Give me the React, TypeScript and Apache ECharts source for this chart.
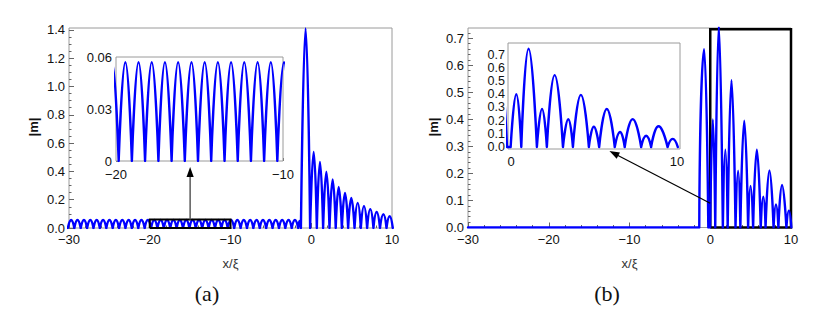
import React, { useEffect, useRef } from 'react';
import * as echarts from 'echarts';

// ---------- data ----------
// Panel (a): regular ripples left of the edge (zeros and crests)
const aRippleZeros = [
  -30.14, -29.34, -28.55, -27.76, -26.97, -26.18, -25.38, -24.59, -23.8, -23.01,
  -22.22, -21.42, -20.63, -19.84, -19.05, -18.26, -17.46, -16.67, -15.88, -15.09,
  -14.3, -13.5, -12.71, -11.92, -11.13, -10.34, -9.54, -8.75, -7.96, -7.17,
  -6.38, -5.58, -4.79, -4.0, -3.21, -2.42, -1.62,
];
const aRippleCrestX = [
  -29.74, -28.95, -28.15, -27.36, -26.57, -25.78, -24.99, -24.2, -23.4, -22.61,
  -21.82, -21.03, -20.24, -19.44, -18.65, -17.86, -17.07, -16.28, -15.48, -14.69,
  -13.9, -13.11, -12.32, -11.52, -10.73, -9.94, -9.15, -8.36, -7.56, -6.77,
  -5.98, -5.19, -4.4, -3.6, -2.81, -2.02,
];
const aRippleCrestY = 0.057;
// Panel (a): main peak and decaying lobes
const aLobeZeros = [-1.28, -0.14, 0.69, 1.47, 2.26, 3.03, 3.79, 4.57, 5.36, 6.14, 6.92, 7.7, 8.51, 9.32, 10.1];
const aLobePeaks: [number, number][] = [
  [-1.45, 0.05], [-0.7, 1.41], [0.3, 0.538], [1.08, 0.467], [1.87, 0.397], [2.65, 0.343],
  [3.4, 0.29], [4.18, 0.248], [4.96, 0.212], [5.75, 0.177], [6.53, 0.154], [7.31, 0.132],
  [8.1, 0.113], [8.93, 0.097], [9.71, 0.083],
];
// Panel (b)
const bZeros = [-30, -1.36, -0.24, -0.02, 0.62, 1.56, 2.16, 3.13, 3.73, 4.69, 5.31, 6.25, 6.85, 7.84, 8.44, 9.43, 10.05];
const bPeaks: [number, number][] = [
  [-1.35, 0.08], [-0.76, 0.66], [0.32, 0.4], [1.06, 0.745], [1.87, 0.288], [2.63, 0.545],
  [3.45, 0.21], [4.21, 0.395], [4.99, 0.154], [5.77, 0.288], [6.57, 0.114], [7.33, 0.211],
  [8.14, 0.085], [8.89, 0.157], [9.74, 0.062],
];
// Highlight boxes (data coordinates)
const aBoxX = [-20, -10];
const aBoxY = [0, 0.06];
const bBoxX = [0, 10];
const bBoxY = [0, 0.733];

// Tick labels
const aXTicks = [-30, -20, -10, 0, 10];
const aYTicks = [0, 0.2, 0.4, 0.6, 0.8, 1.0, 1.2, 1.4];
const aInsetXTicks = [-20, -10];
const aInsetYTicks = [0, 0.03, 0.06];
const bXTicks = [-30, -20, -10, 0, 10];
const bYTicks = [0, 0.1, 0.2, 0.3, 0.4, 0.5, 0.6, 0.7];
const bInsetXTicks = [0, 10];
const bInsetYTicks = [0, 0.1, 0.2, 0.3, 0.4, 0.5, 0.6, 0.7];

// ---------- helpers ----------
function buildCurve(zeros: number[], peaks: [number, number][]) {
  const knots: [number, number][] = [...zeros.map((x) => [x, 0] as [number, number]), ...peaks].sort(
    (p, q) => p[0] - q[0]
  );
  const out: any[] = [];
  knots.forEach((k, i) => {
    out.push([k[0], k[1]]);
    if (k[1] === 0 && i > 0 && i < knots.length - 1) {
      out.push([k[0], '-']);
      out.push([k[0], 0]);
    }
  });
  return out;
}

function boxData(xs: number[], ys: number[]) {
  return [
    [xs[0], ys[0]],
    [xs[0], ys[1]],
    [xs[1], ys[1]],
    [xs[1], ys[0]],
    [xs[0], ys[0]],
  ];
}

function minors(majors: number[], n: number, lo: number, hi: number) {
  const step = (majors[1] - majors[0]) / n;
  const res: number[] = [];
  const start = majors[0] - step * n * 2;
  for (let i = 0; i < 400; i++) {
    const v = +(start + i * step).toFixed(6);
    if (v > hi + 1e-9) break;
    if (v < lo - 1e-9) continue;
    if (majors.some((m) => Math.abs(m - v) < 1e-6)) continue;
    res.push(v);
  }
  return res;
}

const FONT = '"Liberation Sans", Arial, Helvetica, sans-serif';
const TICK_COLOR = '#666';

function mkAxis(
  dim: 'x' | 'y', gridIndex: number, min: number, max: number, ticks: number[],
  fmt: (v: number) => string, margin: number, len: number, fontSize = 13, lineHeight = 13
) {
  return {
    type: 'value',
    gridIndex,
    min,
    max,
    position: dim === 'x' ? 'bottom' : 'left',
    axisLine: { show: false, onZero: false },
    splitLine: { show: false },
    axisTick: { show: true, inside: true, length: len, customValues: ticks, lineStyle: { color: TICK_COLOR, width: 1 } },
    axisLabel: {
      show: true,
      customValues: ticks,
      formatter: fmt,
      margin,
      fontFamily: FONT,
      fontSize,
      lineHeight,
      color: '#111',
    },
  };
}

function mkMinorAxis(dim: 'x' | 'y', gridIndex: number, min: number, max: number, ticks: number[], len: number) {
  return {
    type: 'value',
    gridIndex,
    min,
    max,
    position: dim === 'x' ? 'bottom' : 'left',
    axisLine: { show: false, onZero: false },
    splitLine: { show: false },
    axisLabel: { show: false },
    axisTick: { show: true, inside: true, length: len, customValues: ticks, lineStyle: { color: TICK_COLOR, width: 1 } },
  };
}

const fmtX = (v: number) => (v < 0 ? '\u2212' + Math.abs(v) : String(v));
const fmt1 = (v: number) => v.toFixed(1);
const fmtInsetA = (v: number) => (v === 0 ? '0' : v.toFixed(2));

function arrow(from: number[], to: number[], lineColor: string, headColor: string, width: number, headLen: number, headW: number) {
  const dx = to[0] - from[0];
  const dy = to[1] - from[1];
  const L = Math.hypot(dx, dy);
  const ux = dx / L;
  const uy = dy / L;
  const bx = to[0] - ux * headLen;
  const by = to[1] - uy * headLen;
  const px = -uy;
  const py = ux;
  return [
    { type: 'line', z: 100, shape: { x1: from[0], y1: from[1], x2: bx + ux * 2, y2: by + uy * 2 }, style: { stroke: lineColor, lineWidth: width } },
    {
      type: 'polygon',
      z: 101,
      shape: { points: [[to[0], to[1]], [bx + px * headW, by + py * headW], [bx - px * headW, by - py * headW]] },
      style: { fill: headColor },
    },
  ];
}

function textEl(text: string, x: number, y: number, font: string, color: string, rotation = 0) {
  return {
    type: 'text',
    x,
    y,
    rotation,
    z: 100,
    style: {
      text,
      font,
      fill: color,
      textAlign: 'center',
      align: 'center',
      textVerticalAlign: 'middle',
      verticalAlign: 'middle',
    },
  };
}

export default function App() {
  const ref = useRef<HTMLDivElement>(null);

  useEffect(() => {
    if (!ref.current) return;
    const chart = echarts.init(ref.current, undefined, { renderer: 'svg' });

    const aCurve = buildCurve(
      [...aRippleZeros, ...aLobeZeros],
      [...aRippleCrestX.map((x) => [x, aRippleCrestY] as [number, number]), ...aLobePeaks]
    );
    const bCurve = buildCurve(bZeros, bPeaks);

    const aMax = 1.413;
    const bMax = 0.738;
    const biXMin = -0.18;
    const biXMax = 10.18;
    const biYMin = -0.015;
    const biYMax = 0.788;

    const gridStyle = { show: true, borderColor: '#9a9a9a', borderWidth: 1, backgroundColor: '#fff' };

    const curveStyle = { color: '#0000ff', width: 2.4, cap: 'round', join: 'round' };

    const option: any = {
      animation: false,
      backgroundColor: '#fff',
      textStyle: { fontFamily: FONT },
      grid: [
        { left: 69, top: 28, width: 323, height: 200, ...gridStyle, z: 0 },
        { left: 116, top: 57, width: 167, height: 104, ...gridStyle, z: 5 },
        { left: 468, top: 28, width: 323, height: 199.5, ...gridStyle, z: 0 },
        { left: 508, top: 43, width: 172, height: 106, ...gridStyle, z: 5 },
      ],
      xAxis: [
        mkAxis('x', 0, -30, 10, aXTicks, fmtX, 5, 5),
        mkAxis('x', 1, -20, -10, aInsetXTicks, fmtX, 7, 3, 13, 12),
        mkAxis('x', 2, -30, 10, bXTicks, fmtX, 5, 5),
        mkAxis('x', 3, biXMin, biXMax, bInsetXTicks, fmtX, 6, 3, 13, 12),
        mkMinorAxis('x', 0, -30, 10, minors(aXTicks, 5, -30, 10), 2.5),
        mkMinorAxis('x', 2, -30, 10, minors(bXTicks, 5, -30, 10), 2.5),
      ],
      yAxis: [
        mkAxis('y', 0, 0, aMax, aYTicks, fmt1, 4, 5),
        mkAxis('y', 1, 0, 0.06, aInsetYTicks, fmtInsetA, 4, 3, 13, 10),
        mkAxis('y', 2, 0, bMax, bYTicks, fmt1, 4, 5),
        mkAxis('y', 3, biYMin, biYMax, bInsetYTicks, fmt1, 3, 3, 12.5, 11),
        mkMinorAxis('y', 0, 0, aMax, minors(aYTicks, 4, 0, aMax), 2.5),
        mkMinorAxis('y', 2, 0, bMax, minors(bYTicks, 5, 0, bMax), 2.5),
        mkMinorAxis('y', 3, biYMin, biYMax, minors(bInsetYTicks, 5, 0, 0.78), 2),
      ],
      series: [
        {
          type: 'line', xAxisIndex: 0, yAxisIndex: 0, data: aCurve, smooth: 0.5, showSymbol: false, symbol: 'none',
          lineStyle: curveStyle, z: 3, clip: true,
        },
        {
          type: 'line', xAxisIndex: 0, yAxisIndex: 0, data: boxData(aBoxX, aBoxY), showSymbol: false, symbol: 'none',
          lineStyle: { color: '#000', width: 2, join: 'miter' }, z: 4, clip: false,
        },
        {
          type: 'line', xAxisIndex: 1, yAxisIndex: 1, data: aCurve, smooth: 0.5, showSymbol: false, symbol: 'none',
          lineStyle: curveStyle, z: 6, clip: true,
        },
        {
          type: 'line', xAxisIndex: 2, yAxisIndex: 2, data: boxData(bBoxX, bBoxY), showSymbol: false, symbol: 'none',
          lineStyle: { color: '#000', width: 2.5, join: 'miter' }, z: 2, clip: false,
        },
        {
          type: 'line', xAxisIndex: 2, yAxisIndex: 2, data: bCurve, smooth: 0.5, showSymbol: false, symbol: 'none',
          lineStyle: curveStyle, z: 3, clip: true,
        },
        {
          type: 'line', xAxisIndex: 3, yAxisIndex: 3, data: bCurve, smooth: 0.5, showSymbol: false, symbol: 'none',
          lineStyle: curveStyle, z: 6, clip: true,
        },
      ],
    };

    chart.setOption(option);

    // annotations: arrows and texts
    const aFrom = chart.convertToPixel({ gridIndex: 0 } as any, [-15, aBoxY[1]]) as number[];
    const aInsetBottom = (chart.convertToPixel({ gridIndex: 1 } as any, [-15, 0]) as number[])[1];
    const aTo = [aFrom[0], aInsetBottom + 6];

    const bFrom = chart.convertToPixel({ gridIndex: 2 } as any, [0, 0.09]) as number[];
    const bToBase = chart.convertToPixel({ gridIndex: 3 } as any, [5.93, biYMin]) as number[];
    const bTo = [bToBase[0], bToBase[1] + 2];

    const serif = '22px "Liberation Serif", "Times New Roman", serif';
    const graphic = [
      ...arrow(aFrom, aTo, '#5a5a5a', '#000', 1.5, 10, 3.6),
      ...arrow(bFrom, bTo, '#000', '#000', 1.2, 10, 3.6),
      textEl('|m|', 33, 127, `bold 13px ${FONT}`, '#111', Math.PI / 2),
      textEl('|m|', 433, 127, `bold 13px ${FONT}`, '#111', Math.PI / 2),
      textEl('x/\u03be', 230.5, 263, `13px ${FONT}`, '#333', 0),
      textEl('x/\u03be', 629.5, 263, `13px ${FONT}`, '#333', 0),
      textEl('(a)', 207, 293, serif, '#111', 0),
      textEl('(b)', 607, 293, serif, '#111', 0),
    ];
    chart.setOption({ graphic });

    return () => {
      chart.dispose();
    };
  }, []);

  return (
    <div
      ref={ref}
      style={{ position: 'absolute', left: 0, top: 0, width: 822, height: 331, background: '#fff' }}
    />
  );
}
